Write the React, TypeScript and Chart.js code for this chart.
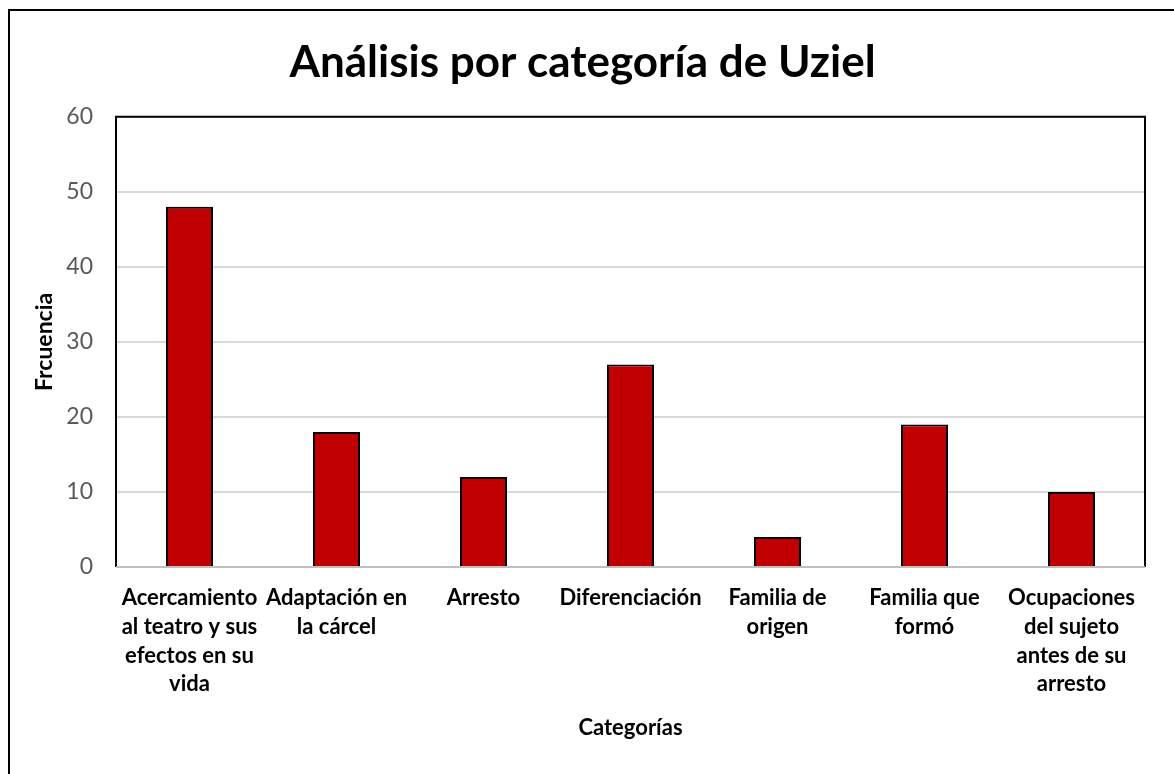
import React, { useEffect, useRef } from "react";
import { Chart, registerables } from "chart.js";

Chart.register(...registerables);

const categories: string[][] = [
  ["Acercamiento", "al teatro y sus", "efectos en su", "vida"],
  ["Adaptación en", "la cárcel"],
  ["Arresto"],
  ["Diferenciación"],
  ["Familia de", "origen"],
  ["Familia que", "formó"],
  ["Ocupaciones", "del sujeto", "antes de su", "arresto"],
];
const frecuencia: number[] = [48, 18, 12, 27, 4, 19, 10];

const titleText = "Análisis por categoría de Uziel";
const xTitle = "Categorías";
const yTitle = "Frcuencia";

const FONT = "Lato, 'Open Sans', sans-serif";

const framePlugin = {
  id: "frame",
  beforeDraw(chart: any) {
    const ctx = chart.ctx;
    ctx.save();
    ctx.fillStyle = "#ffffff";
    ctx.fillRect(0, 0, chart.width, chart.height);
    ctx.strokeStyle = "#000000";
    ctx.lineWidth = 2;
    ctx.strokeRect(9, 10, chart.width + 20, chart.height + 20);
    ctx.restore();
  },
  afterDatasetsDraw(chart: any) {
    const { left, top, right, bottom } = chart.chartArea;
    const ctx = chart.ctx;
    ctx.save();
    ctx.strokeStyle = "#000000";
    ctx.lineWidth = 2;
    ctx.beginPath();
    ctx.moveTo(left, bottom);
    ctx.lineTo(left, top);
    ctx.lineTo(right, top);
    ctx.lineTo(right, bottom);
    ctx.stroke();
    ctx.strokeStyle = "#bfbfbf";
    ctx.beginPath();
    ctx.moveTo(left, bottom);
    ctx.lineTo(right, bottom);
    ctx.stroke();
    ctx.restore();
  },
};

export default function App() {
  const ref = useRef<HTMLCanvasElement>(null);
  useEffect(() => {
    if (!ref.current) return;
    const chart = new Chart(ref.current, {
      type: "bar",
      data: {
        labels: categories,
        datasets: [
          {
            label: "Frecuencia",
            data: frecuencia,
            backgroundColor: "#C00000",
            borderColor: "#000000",
            borderWidth: 2,
            barPercentage: 0.32,
            categoryPercentage: 1,
          },
        ],
      },
      options: {
        responsive: false,
        animation: false,
        layout: { padding: { left: 20, top: 10, right: 29, bottom: 23 } },
        plugins: {
          legend: { display: false },
          tooltip: { enabled: false },
          title: {
            display: true,
            text: titleText,
            color: "#000000",
            font: { family: FONT, size: 44, weight: "bold", lineHeight: 1.2 },
            padding: { top: 26, bottom: 28 },
          },
        },
        scales: {
          x: {
            grid: { display: false, drawTicks: false },
            border: { display: false },
            ticks: {
              color: "#000000",
              font: { family: FONT, size: 22, weight: "bold", lineHeight: 1.3 },
              padding: 17,
              maxRotation: 0,
              autoSkip: false,
            },
            title: {
              display: true,
              text: xTitle,
              color: "#000000",
              font: { family: FONT, size: 22, weight: "bold", lineHeight: 1.2 },
              padding: { top: 0, bottom: 10 },
            },
            afterFit: (s: any) => {
              s.height = 184;
            },
          },
          y: {
            min: 0,
            max: 60,
            ticks: {
              stepSize: 10,
              color: "#595959",
              font: { family: FONT, size: 23 },
              padding: 23,
            },
            grid: { color: "#d9d9d9", lineWidth: 2, drawTicks: false },
            border: { display: false },
            title: {
              display: true,
              text: yTitle,
              color: "#000000",
              font: { family: FONT, size: 23, weight: "bold", lineHeight: 1.2 },
              padding: { top: 11, bottom: 0 },
            },
            afterFit: (s: any) => {
              s.width = 96;
            },
          },
        },
      },
      plugins: [framePlugin],
    });
    return () => chart.destroy();
  }, []);
  return (
    <div style={{ position: "absolute", left: 0, top: 0, width: 1174, height: 774, background: "#fff" }}>
      <canvas ref={ref} width={1174} height={774} style={{ display: "block" }} />
    </div>
  );
}
